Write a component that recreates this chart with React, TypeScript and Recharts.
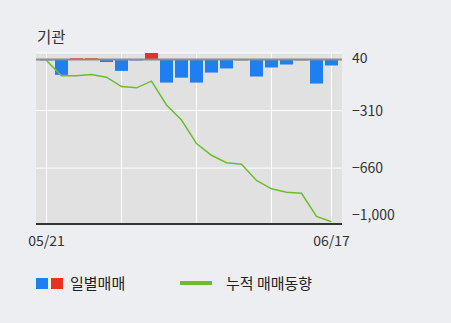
import { ComposedChart, Bar, Line, XAxis, YAxis, CartesianGrid, ReferenceLine, Cell } from "recharts";

const dates = ["05/21", "05/22", "05/25", "05/26", "05/27", "05/28", "05/29", "06/01", "06/02", "06/03", "06/04", "06/05", "06/08", "06/09", "06/10", "06/11", "06/12", "06/15", "06/16", "06/17"];
const daily = [-5, -93, 8, 8, -15, -69, -5, 40, -140, -110, -140, -79, -54, -5, -103, -48, -30, -5, -146, -36];
const cumulative = [-5, -99, -99, -91, -107, -164, -172, -131, -276, -368, -511, -582, -627, -637, -735, -786, -807, -813, -954, -986];
const yTicks = [40, -310, -660, -1000];
const weekLines = ["05/21", "05/28", "06/04", "06/11", "06/17"];

const font = '"Noto Sans CJK KR", "Noto Sans", sans-serif';
const blue = "#1f7ff0";
const red = "#e8321f";
const green = "#6cbd2d";

const data = dates.map((d, i) => ({ date: d, daily: daily[i], cum: cumulative[i] }));

function YTick(props: any) {
  const { x, y, payload } = props;
  const yy = Math.min(Math.max(y, 58), 215);
  const label = payload.value < 0 ? "\u2212" + Math.abs(payload.value).toLocaleString("en-US") : String(payload.value);
  return (
    <text x={x} y={yy} dy={5} textAnchor="start" fill="#333" fontSize={14} fontFamily={font}>
      {label}
    </text>
  );
}

export default function App() {
  return (
    <div style={{ position: "absolute", left: 0, top: 0, width: 451, height: 323, background: "#eceef2", fontFamily: font }}>
      <div style={{ position: "absolute", left: 37, top: 26, fontSize: 15.5, color: "#333", lineHeight: "20px" }}>기관</div>
      <ComposedChart width={451} height={323} data={data} margin={{ top: 53, left: 36, right: 0, bottom: 69 }}>
        <CartesianGrid fill="#e1e1e1" stroke="#ffffff" vertical={false} />
        {weekLines.map((d) => (
          // keep the weekly lines under the bars
          <ReferenceLine key={d} x={d} stroke="#ffffff" strokeWidth={1} zIndex={-50} />
        ))}
        <XAxis
          dataKey="date"
          height={30}
          padding={{ left: 3, right: 3 }}
          interval={0}
          tickLine={false}
          axisLine={{ stroke: "#333", strokeWidth: 2 }}
          tickFormatter={(v: string, i: number) => (i === 0 || i === dates.length - 1 ? v : "")}
          tick={{ fill: "#333", fontSize: 14, fontFamily: font }}
          tickMargin={6}
        />
        <YAxis
          orientation="right"
          width={109}
          domain={[-1000, 40]}
          ticks={yTicks}
          allowDataOverflow
          axisLine={false}
          tickLine={false}
          tickSize={0}
          tickMargin={10}
          tick={<YTick />}
        />
        <YAxis
          yAxisId="l"
          orientation="left"
          width={0}
          domain={[-1000, 40]}
          tick={false}
          tickLine={false}
          axisLine={{ stroke: "#333", strokeWidth: 2 }}
        />
        <Bar dataKey="daily" barSize={13} isAnimationActive={false}>
          {daily.map((v, i) => (
            <Cell key={i} fill={v >= 0 ? red : blue} />
          ))}
        </Bar>
        <ReferenceLine y={0} stroke="#8c8c8c" strokeWidth={2} />
        <Line dataKey="cum" type="linear" stroke={green} strokeWidth={1.5} dot={false} isAnimationActive={false} />
      </ComposedChart>
      <div style={{ position: "absolute", left: 36, top: 278, width: 12, height: 11, background: blue }} />
      <div style={{ position: "absolute", left: 51, top: 278, width: 12, height: 11, background: red }} />
      <div style={{ position: "absolute", left: 70, top: 273, fontSize: 15, color: "#222", lineHeight: "20px" }}>일별매매</div>
      <div style={{ position: "absolute", left: 180, top: 281, width: 32, height: 4, background: green }} />
      <div style={{ position: "absolute", left: 226, top: 273, fontSize: 15, color: "#222", lineHeight: "20px" }}>누적 매매동향</div>
    </div>
  );
}
